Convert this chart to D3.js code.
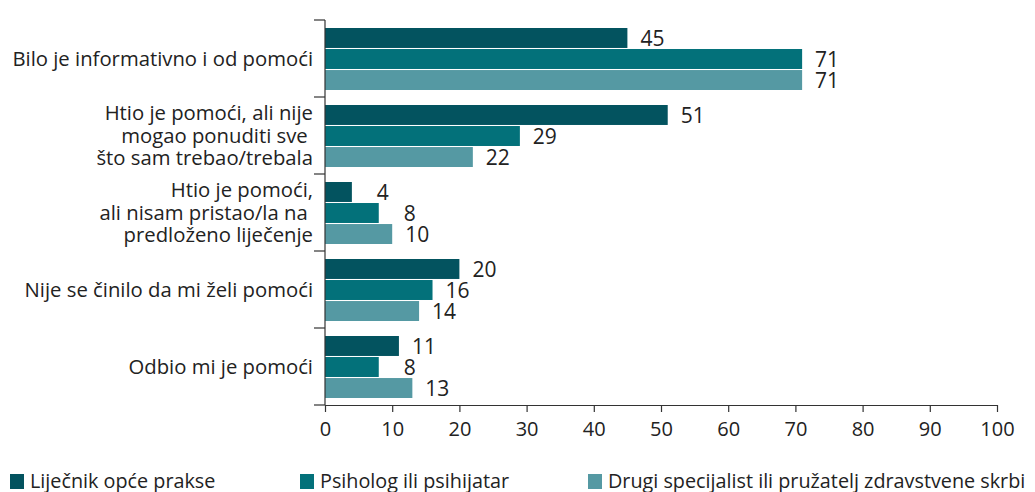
<!DOCTYPE html>
<html><head><meta charset="utf-8">
<script src="https://cdn.jsdelivr.net/npm/d3@7"></script>
<style>
body{margin:0;background:#fff;}
svg text{font-family:"Open Sans","Noto Sans",sans-serif;fill:#222;}
</style></head>
<body><svg id="c" width="1035" height="492"></svg>
<script>
const categories = [
  ["Bilo je informativno i od pomoći"],
  ["Htio je pomoći, ali nije", "mogao ponuditi sve ", "što sam trebao/trebala"],
  ["Htio je pomoći,", "ali nisam pristao/la na ", "predloženo liječenje"],
  ["Nije se činilo da mi želi pomoći"],
  ["Odbio mi je pomoći"]
];
const seriesNames = ["Liječnik opće prakse", "Psiholog ili psihijatar", "Drugi specijalist ili pružatelj zdravstvene skrbi"];
const gpValues = [45, 51, 4, 20, 11];
const psyValues = [71, 29, 8, 16, 8];
const otherValues = [71, 22, 10, 14, 13];
const xTicks = [0,10,20,30,40,50,60,70,80,90,100];
const colors = ["#03535f", "#03717a", "#5599a3"];

const seriesValues = [gpValues, psyValues, otherValues];
const svg = d3.select("#c");
const x = d3.scaleLinear().domain([0,100]).range([325,997]);
const y = d3.scaleBand().domain(d3.range(categories.length)).range([20,405]).padding(0);
const yi = d3.scaleBand().domain(d3.range(3)).range([8, 70]).paddingInner(0.05);

// bars
categories.forEach((c, ci) => {
  const g = svg.append("g").attr("transform", `translate(0,${y(ci)})`);
  seriesValues.forEach((vals, si) => {
    const v = vals[ci];
    g.append("rect").attr("x", x(0)).attr("y", yi(si))
      .attr("width", x(v) - x(0)).attr("height", yi.bandwidth())
      .attr("fill", colors[si]);
    g.append("text").attr("x", x(v) + 37).attr("y", yi(si) + yi.bandwidth()/2)
      .attr("dy", "0.36em").attr("text-anchor", "end")
      .attr("font-size", 21).text(v);
  });
  // category label
  const n = c.length, lh = 22.5;
  const t = svg.append("text").attr("text-anchor", "end").attr("font-size", 20.3)
    .attr("xml:space", "preserve").style("white-space", "pre");
  c.forEach((line, li) => {
    t.append("tspan").attr("x", 313)
      .attr("y", y(ci) + y.bandwidth()/2 + (li - (n-1)/2) * lh)
      .attr("dy", "0.36em").text(line);
  });
});

// y axis line and boundary ticks
const axisColor = "#333";
svg.append("line").attr("x1", x(0)).attr("x2", x(0)).attr("y1", 20).attr("y2", 405)
  .attr("stroke", axisColor).attr("stroke-width", 1.2);
const bounds = d3.range(categories.length + 1).map(i => i < categories.length ? y(i) : 405);
svg.selectAll(".yt").data(bounds).enter().append("line")
  .attr("x1", 314).attr("x2", x(0)).attr("y1", d => d).attr("y2", d => d)
  .attr("stroke", axisColor).attr("stroke-width", 1.2);

// x axis
const xa = d3.axisBottom(x).tickValues(xTicks).tickSize(7).tickPadding(10).tickFormat(d3.format("d"));
const gx = svg.append("g").attr("transform", "translate(0,405)").call(xa);
gx.select(".domain").attr("stroke", axisColor).attr("stroke-width", 1.2).attr("d", `M${x(0)},0.5H${x(100)}`);
gx.selectAll(".tick line").attr("stroke", axisColor).attr("stroke-width", 1.2);
gx.selectAll(".tick text").attr("font-size", 20).attr("font-family", '"Open Sans","Noto Sans",sans-serif').attr("fill", "#222");

// legend
const legX = [10, 300, 588];
seriesNames.forEach((s, i) => {
  svg.append("rect").attr("x", legX[i]).attr("y", 474).attr("width", 14).attr("height", 15).attr("fill", colors[i]);
  svg.append("text").attr("x", legX[i] + 20).attr("y", 481).attr("dy", "0.36em")
    .attr("font-size", 19.8).text(s);
});
</script></body></html>
